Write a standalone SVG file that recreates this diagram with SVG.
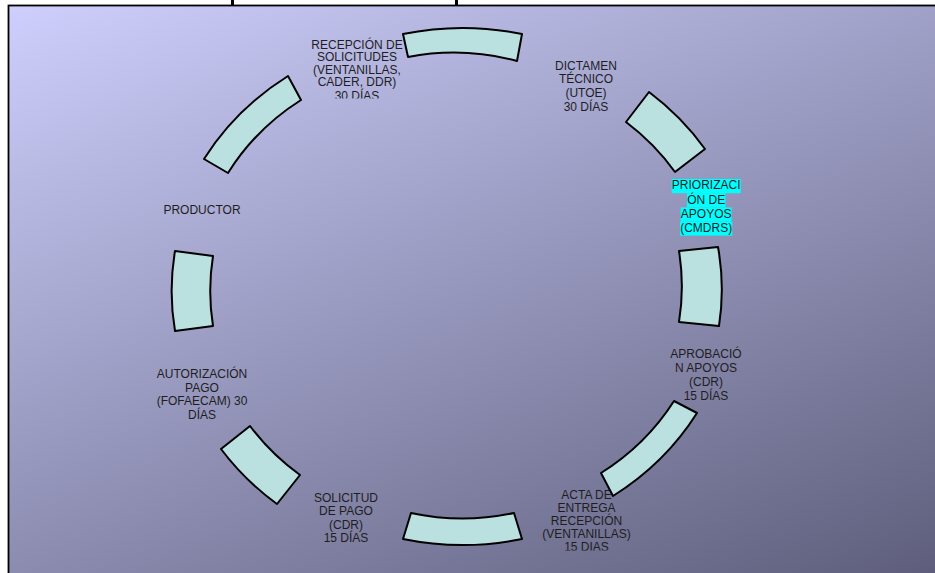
<svg xmlns="http://www.w3.org/2000/svg" width="935" height="573" viewBox="0 0 935 573">
<defs>
<linearGradient id="bg" gradientUnits="userSpaceOnUse" x1="8" y1="5" x2="347" y2="818">
<stop offset="0" stop-color="#cecffc"/>
<stop offset="1" stop-color="#5e5e7c"/>
</linearGradient>
<clipPath id="clipRec"><rect x="280" y="20" width="160" height="78.5"/></clipPath>
<clipPath id="clipActa"><rect x="520" y="480" width="140" height="70.5"/></clipPath>
</defs>
<style>
.lbl{font-family:"Liberation Sans",Arial,sans-serif;font-size:12px;fill:#1e1e1e;text-anchor:middle}
.seg{fill:#bae0e0;stroke:#000;stroke-width:2;stroke-linejoin:round}
.hl{fill:#00ffff}
</style>
<rect x="0" y="0" width="935" height="573" fill="#ffffff"/>
<rect x="231" y="0" width="3" height="5" fill="#000"/>
<rect x="455" y="0" width="3" height="5" fill="#000"/>
<rect x="8.5" y="5.5" width="940" height="580" fill="url(#bg)" stroke="#000" stroke-width="1.8"/>

<g id="productor">
<text class="lbl" x="202" y="214">PRODUCTOR</text>
</g>
<g id="recepcion" clip-path="url(#clipRec)">
<text class="lbl" x="357" y="48.5">RECEPCIÓN DE</text>
<text class="lbl" x="357" y="61">SOLICITUDES</text>
<text class="lbl" x="357" y="73.5">(VENTANILLAS,</text>
<text class="lbl" x="357" y="86">CADER, DDR)</text>
<text class="lbl" x="357" y="99.5">30 DÍAS</text>
</g>
<g id="dictamen">
<text class="lbl" x="586" y="69.5">DICTAMEN</text>
<text class="lbl" x="586" y="83.2">TÉCNICO</text>
<text class="lbl" x="586" y="96.9">(UTOE)</text>
<text class="lbl" x="586" y="110.6">30 DÍAS</text>
</g>
<g id="priorizacion">
<rect class="hl" x="671.7" y="179" width="69" height="14.2"/>
<rect class="hl" x="687" y="193.2" width="38.5" height="14.2"/>
<rect class="hl" x="680.6" y="207.4" width="51" height="14.2"/>
<rect class="hl" x="680" y="221.6" width="52.3" height="14"/>
<text class="lbl" x="706.2" y="189.3">PRIORIZACI</text>
<text class="lbl" x="706.2" y="203.5">ÓN DE</text>
<text class="lbl" x="706.2" y="217.7">APOYOS</text>
<text class="lbl" x="706.2" y="231.9">(CMDRS)</text>
</g>
<g id="aprobacion">
<text class="lbl" x="706" y="358">APROBACIÓ</text>
<text class="lbl" x="706" y="372">N APOYOS</text>
<text class="lbl" x="706" y="386">(CDR)</text>
<text class="lbl" x="706" y="400">15 DÍAS</text>
</g>
<g id="acta" clip-path="url(#clipActa)">
<text class="lbl" x="586.5" y="498.5">ACTA DE</text>
<text class="lbl" x="586.5" y="511.5">ENTREGA</text>
<text class="lbl" x="586.5" y="524.5">RECEPCIÓN</text>
<text class="lbl" x="586.5" y="537.5">(VENTANILLAS)</text>
<text class="lbl" x="586.5" y="551">15 DIAS</text>
</g>
<g id="solicitud">
<text class="lbl" x="346" y="502">SOLICITUD</text>
<text class="lbl" x="346" y="515.3">DE PAGO</text>
<text class="lbl" x="346" y="528.6">(CDR)</text>
<text class="lbl" x="346" y="541.9">15 DÍAS</text>
</g>
<g id="autorizacion">
<text class="lbl" x="202" y="378">AUTORIZACIÓN</text>
<text class="lbl" x="202" y="391.7">PAGO</text>
<text class="lbl" x="202" y="405.4">(FOFAECAM) 30</text>
<text class="lbl" x="202" y="419.1">DÍAS</text>
</g>

<g id="connectors">
<path class="seg" d="M403,34 A277,257 0 0 1 522,34 L517,61 A237,229 0 0 0 408,57 Z"/>
<path class="seg" d="M649,92 A277,257 0 0 1 705,149 L675,172 A237,229 0 0 0 626,122 Z"/>
<path class="seg" d="M718,247 A277,257 0 0 1 719,326 L679,322 A237,229 0 0 0 679,251 Z"/>
<path class="seg" d="M697,413 A277,257 0 0 1 613,496 L601,473 A237,229 0 0 0 674,401 Z"/>
<path class="seg" d="M522,539 A277,257 0 0 1 403,539 L411,513 A237,229 0 0 0 514,513 Z"/>
<path class="seg" d="M277,504 A277,257 0 0 1 221,449 L250,426 A237,229 0 0 0 300,475 Z"/>
<path class="seg" d="M175,331 A277,257 0 0 1 175,251 L213,256 A237,229 0 0 0 213,326 Z"/>
<path class="seg" d="M204,159 A277,257 0 0 1 288,76 L301,100 A237,229 0 0 0 228,173 Z"/>
</g>
</svg>
